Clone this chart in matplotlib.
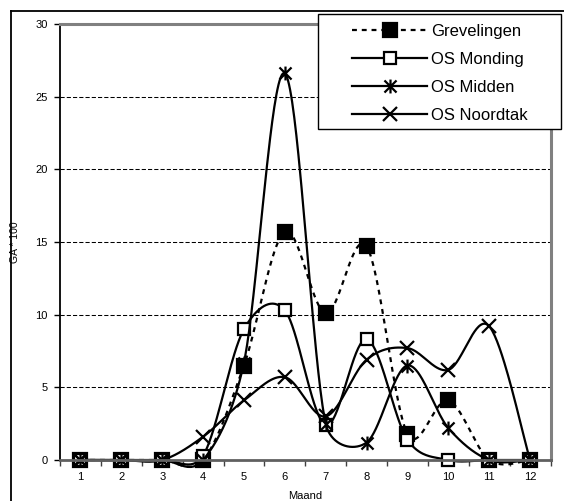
import numpy as np
import matplotlib
matplotlib.use("Agg")
import matplotlib.pyplot as plt
from matplotlib.path import Path
from matplotlib.lines import Line2D
from matplotlib.patches import Rectangle

plt.rcParams['font.family'] = ['Liberation Sans', 'DejaVu Sans']

# Monthly values (GA * 100) per location
months = [1, 2, 3, 4, 5, 6, 7, 8, 9, 10, 11, 12]
grevelingen = [0, 0, 0, 0, 6.5, 15.7, 10.1, 14.7, 1.8, 4.1, 0, 0]
os_monding = [0, 0, 0, 0.3, 9.0, 10.3, 2.4, 8.3, 1.4, 0, 0, 0]
os_midden = [0, 0, 0, 0, 6.7, 26.6, 2.5, 1.2, 6.5, 2.2, 0, 0]
os_noordtak = [0, 0, 0, 1.6, 4.1, 5.7, 3.0, 6.9, 7.7, 6.2, 9.2, 0]
series_names = ["Grevelingen", "OS Monding", "OS Midden", "OS Noordtak"]
y_ticks = [0, 5, 10, 15, 20, 25, 30]

W, H = 564, 501
AX_LEFT, AX_RIGHT, AX_TOP, AX_BOTTOM = 60, 550.5, 24, 460
X_MIN, X_MAX, Y_MIN, Y_MAX = 0.5, 12.5, 0, 30
SX = (AX_RIGHT - AX_LEFT) / (X_MAX - X_MIN)   # px per month
SY = (AX_BOTTOM - AX_TOP) / (Y_MAX - Y_MIN)   # px per unit


def smooth(x, y, n=40):
    """Bezier smoothing through every point; control arms are limited
    to half the segment length (measured on screen)."""
    P = np.column_stack([x, y]).astype(float)
    scale = np.array([SX, SY])
    out = []
    t = np.linspace(0, 1, n)[:, None]

    def arm(a, b, seg_len):
        d = np.linalg.norm((b - a) * scale)
        if d == 0:
            return np.zeros(2)
        f = 1 / 6 if d / 6 < seg_len / 2 else seg_len / (2 * d)
        return (b - a) * f

    for i in range(len(P) - 1):
        p0 = P[max(i - 1, 0)]
        p1 = P[i]
        p2 = P[i + 1]
        p3 = P[min(i + 2, len(P) - 1)]
        d12 = np.linalg.norm((p2 - p1) * scale)
        c1 = p1 + arm(p0, p2, d12)
        c2 = p2 - arm(p1, p3, d12)
        seg = ((1 - t) ** 3) * p1 + 3 * ((1 - t) ** 2) * t * c1 \
            + 3 * (1 - t) * t ** 2 * c2 + t ** 3 * p2
        out.append(seg if i == 0 else seg[1:])
    out = np.vstack(out)
    return out[:, 0], out[:, 1]


# asterisk marker: an X with a vertical stroke through it
star_path = Path(
    [(-1, -1), (1, 1), (-1, 1), (1, -1), (0, -1.15), (0, 1.15)],
    [Path.MOVETO, Path.LINETO] * 3,
)

fig = plt.figure(figsize=(W / 100, H / 100), dpi=100)
ax = fig.add_axes([AX_LEFT / W, 1 - AX_BOTTOM / H,
                   (AX_RIGHT - AX_LEFT) / W, (AX_BOTTOM - AX_TOP) / H])

lw = 1.6
mew = 1.6
styles = [
    dict(ls=(0, (2.2, 2.2)), marker='s', ms=10, mfc='black', mec='black'),
    dict(ls='-', marker='s', ms=9, mfc='white', mec='black'),
    dict(ls='-', marker=star_path, ms=10, mfc='none', mec='black'),
    dict(ls='-', marker='x', ms=10, mfc='none', mec='black'),
]
data = [grevelingen, os_monding, os_midden, os_noordtak]

handles = []
for vals, st, name in zip(data, styles, series_names):
    sx, sy = smooth(months, vals)
    ax.plot(sx, sy, color='black', lw=lw, ls=st['ls'], clip_on=False,
            solid_capstyle='butt', dash_capstyle='butt')
    ax.plot(months, vals, ls='none', marker=st['marker'], ms=st['ms'],
            mfc=st['mfc'], mec=st['mec'], mew=mew, clip_on=False)
    handles.append(Line2D([], [], color='black', lw=lw, ls=st['ls'],
                          marker=st['marker'], ms=st['ms'], mfc=st['mfc'],
                          mec=st['mec'], mew=mew))

ax.set_xlim(X_MIN, X_MAX)
ax.set_ylim(Y_MIN, Y_MAX)

# gridlines
for v in y_ticks[1:-1]:
    ax.axhline(v, color='black', lw=0.75, ls=(0, (4, 2)), zorder=0.5)

# category ticks on boundaries, labels at centres
ax.set_xticks(np.arange(0.5, 13.0, 1.0))
ax.set_xticklabels([])
ax.set_xticks(months, minor=True)
ax.set_xticklabels([str(m) for m in months], minor=True)
ax.tick_params(axis='x', which='major', direction='out', length=4, width=1,
               color='#404040')
ax.tick_params(axis='x', which='minor', length=0, pad=9, labelsize=8)
ax.set_yticks(y_ticks)
ax.set_yticklabels([str(v) for v in y_ticks])
ax.tick_params(axis='y', direction='out', length=4, width=1, pad=5,
               labelsize=8, color='black')

for side in ('top', 'right'):
    ax.spines[side].set_color('#808080')
    ax.spines[side].set_linewidth(2.2)
ax.spines['bottom'].set_color('#606060')
ax.spines['bottom'].set_linewidth(2.0)
ax.spines['left'].set_color('black')
ax.spines['left'].set_linewidth(1.3)

ax.set_xlabel("Maand", fontsize=8)
ax.xaxis.set_label_coords(0.5, -0.071)
ax.set_ylabel("GA * 100", fontsize=7.5)
ax.yaxis.set_label_coords(-0.0815, 0.5)

# legend with its own box
leg = fig.legend(handles, series_names, loc='upper left',
                 bbox_to_anchor=(344 / W, 1 - 16 / H), frameon=False,
                 borderpad=0, handlelength=4.5, handletextpad=0.2,
                 labelspacing=0.78, fontsize=12)
fig.add_artist(Rectangle((318 / W, 1 - 129 / H), 243 / W, 115 / H,
                         transform=fig.transFigure, fill=True,
                         facecolor='white', edgecolor='black', lw=1.0,
                         zorder=leg.get_zorder() - 0.1))

# outer chart frame (top and left edges)
fig.add_artist(Line2D([11 / W, 11 / W], [0, 1 - 11 / H],
                      transform=fig.transFigure, color='black', lw=1.3))
fig.add_artist(Line2D([11 / W, 1], [1 - 11 / H, 1 - 11 / H],
                      transform=fig.transFigure, color='black', lw=1.3))

fig.savefig("out.png", dpi=100)
